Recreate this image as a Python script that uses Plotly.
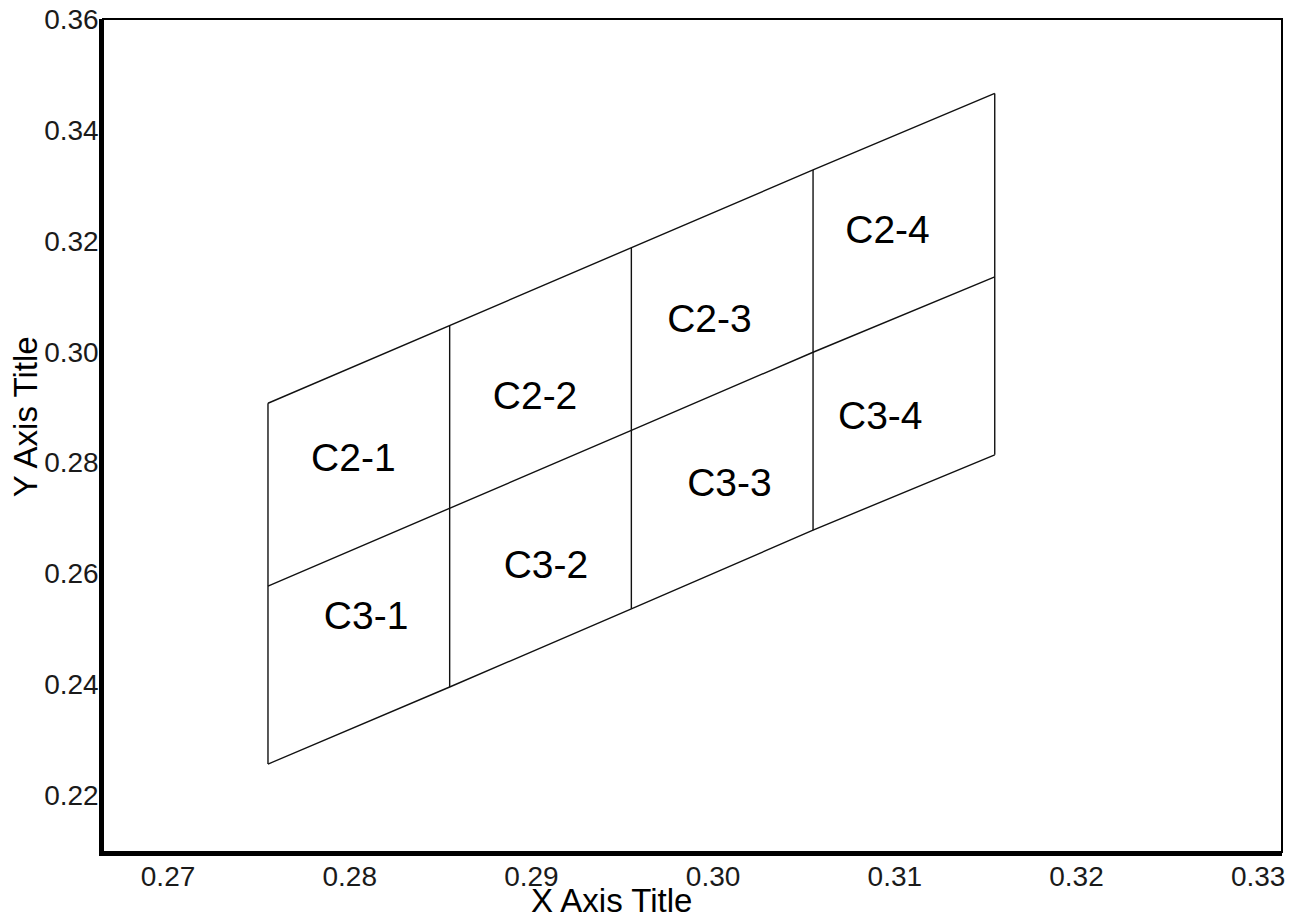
import plotly.graph_objects as go

# ---- data ----
grid_x = [0.2755, 0.2855, 0.2955, 0.3055, 0.3155]
top_y = [0.2907, 0.3047, 0.3187, 0.3328, 0.3466]
mid_y = [0.2577, 0.2717, 0.2858, 0.2999, 0.3135]
bot_y = [0.2256, 0.2395, 0.2536, 0.2678, 0.2814]

cell_labels = ["C2-1", "C2-2", "C2-3", "C2-4", "C3-1", "C3-2", "C3-3", "C3-4"]
label_x = [0.2802, 0.2902, 0.2998, 0.3096, 0.2809, 0.2908, 0.3009, 0.3092]
label_y = [0.2802, 0.2914, 0.3054, 0.3214, 0.2517, 0.2609, 0.2757, 0.2879]

x_ticks = [0.27, 0.28, 0.29, 0.30, 0.31, 0.32, 0.33]
x_ticktext = ["0.27", "0.28", "0.29", "0.30", "0.31", "0.32", "0.33"]
y_ticks = [0.22, 0.24, 0.26, 0.28, 0.30, 0.32, 0.34, 0.36]
y_ticktext = ["0.22", "0.24", "0.26", "0.28", "0.30", "0.32", "0.34", "0.36"]

FONT = "Liberation Sans, Arial, sans-serif"
LINE = dict(color="#111111", width=1.4)

fig = go.Figure()
for ys in (top_y, mid_y, bot_y):
    fig.add_trace(go.Scatter(x=grid_x, y=ys, mode="lines", line=LINE,
                             hoverinfo="skip", showlegend=False))
for gx, yb, yt in zip(grid_x, bot_y, top_y):
    fig.add_trace(go.Scatter(x=[gx, gx], y=[yb, yt], mode="lines", line=LINE,
                             hoverinfo="skip", showlegend=False))

fig.add_trace(go.Scatter(x=label_x, y=label_y, mode="text", text=cell_labels,
                         textposition="middle center",
                         textfont=dict(family=FONT, size=39, color="black"),
                         hoverinfo="skip", showlegend=False))

# page body has an 8px margin, so the figure is 8px smaller and margins compensate
fig.update_layout(
    width=1288, height=912,
    margin=dict(l=95, r=14, t=11, b=68, pad=0, autoexpand=False),
    paper_bgcolor="white", plot_bgcolor="white",
    font=dict(family=FONT, color="black"),
    xaxis=dict(range=[0.26642, 0.33131], tickvals=x_ticks, ticktext=x_ticktext,
               showgrid=False, zeroline=False, ticks="", ticklen=0,
               ticklabeloverflow="allow", automargin=False, ticklabelstandoff=-3,
               showline=True, linecolor="black", linewidth=3.5,
               tickfont=dict(family=FONT, size=28, color="#1a1a1a")),
    yaxis=dict(range=[0.20973, 0.36003], tickvals=y_ticks, ticktext=y_ticktext,
               showgrid=False, zeroline=False, ticks="", ticklen=0,
               ticklabeloverflow="allow", automargin=False, ticklabelstandoff=-5,
               showline=True, linecolor="black", linewidth=3.5,
               tickfont=dict(family=FONT, size=28, color="#1a1a1a")),
    shapes=[dict(type="rect", xref="paper", yref="paper", x0=0, y0=0, x1=1, y1=1,
                 line=dict(color="black", width=2), layer="above")],
    annotations=[
        dict(text="X Axis Title", xref="paper", yref="paper", x=0.4317, y=-0.0580,
             xanchor="center", yanchor="middle", showarrow=False,
             font=dict(family=FONT, size=33, color="black")),
        dict(text="Y Axis Title", xref="paper", yref="paper", x=-0.0660, y=0.5222,
             xanchor="center", yanchor="middle", showarrow=False, textangle=-90,
             font=dict(family=FONT, size=33, color="black")),
    ],
)

fig.write_html("out.html")
